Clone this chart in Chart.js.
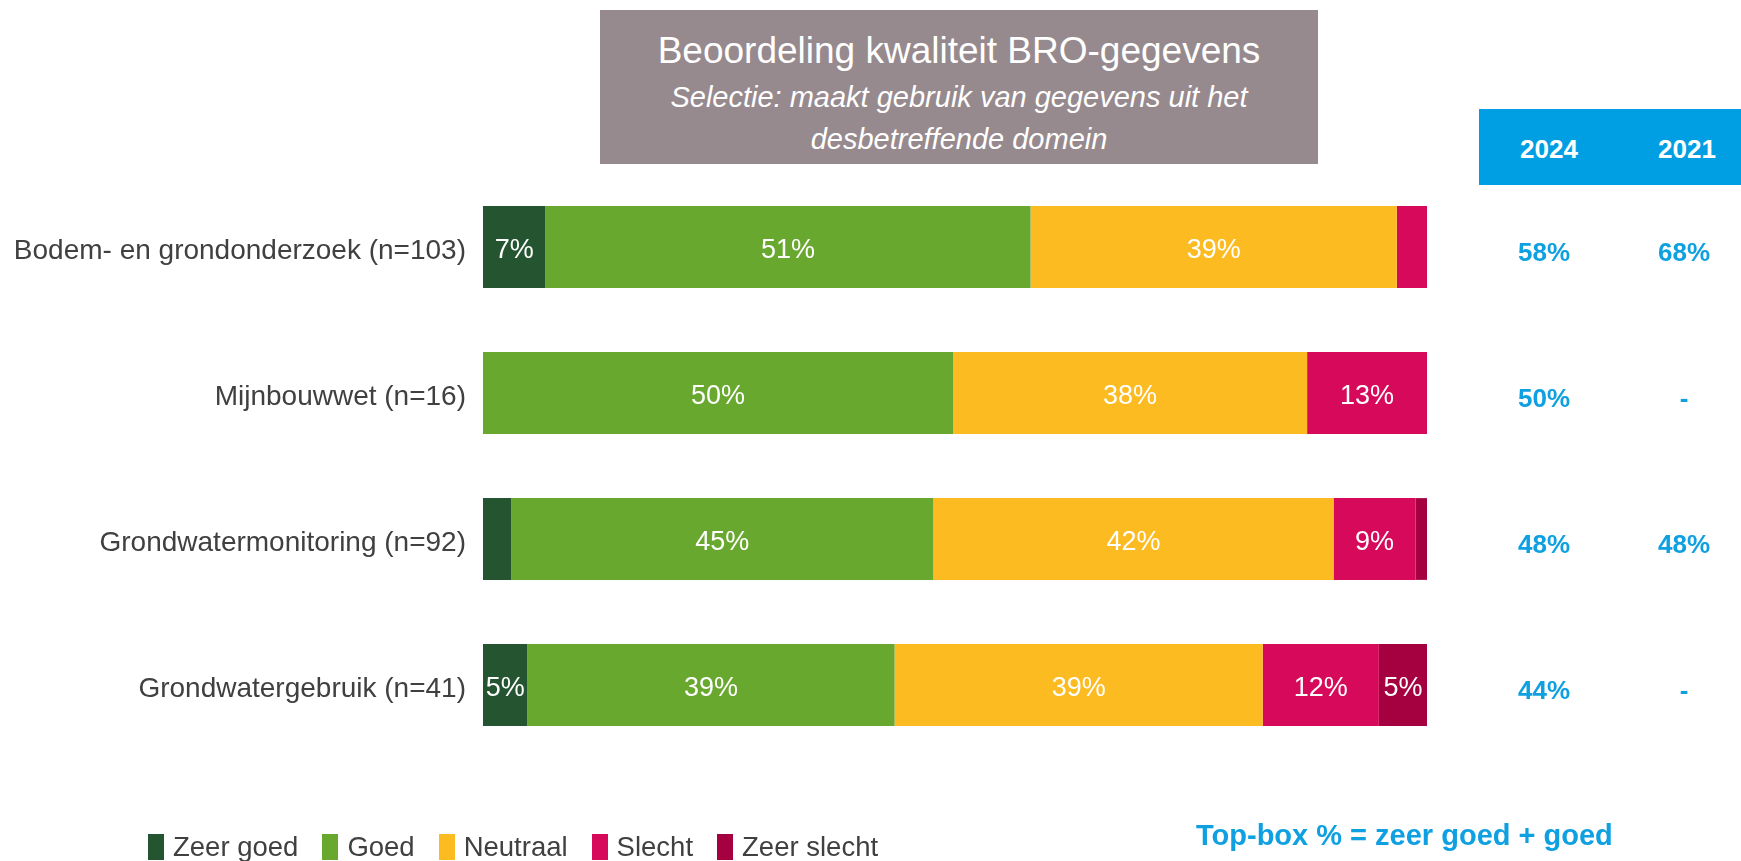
<!DOCTYPE html>
<html>
<head>
<meta charset="utf-8">
<script src="https://cdn.jsdelivr.net/npm/chart.js@4"></script>
<style>
  html, body { margin: 0; padding: 0; background: #fff; }
  body { width: 1741px; height: 861px; position: relative; overflow: hidden;
         font-family: "Liberation Sans", Arial, sans-serif; }
  #chart-wrap { position: absolute; left: 0; top: 0; width: 1741px; height: 861px; }
  .title-box { position: absolute; left: 600px; top: 10px; width: 718px; height: 154px;
               background: #978a8e; color: #fff; text-align: center; }
  .title-box .t1 { position: absolute; left: 0; right: 0; top: 20px; font-size: 37px; line-height: 42px; }
  .title-box .t2 { position: absolute; left: 0; right: 0; top: 66px; font-size: 29px; line-height: 42px; font-style: italic; }
  .year-box { position: absolute; left: 1479px; top: 109px; width: 262px; height: 76px; background: #009fe3; }
  .year-box span { position: absolute; top: 26px; width: 100px; margin-left: -50px; text-align: center;
                   color: #fff; font-weight: bold; font-size: 26px; line-height: 28px; }
  .footnote { position: absolute; left: 1196px; top: 818px; font-size: 29px; line-height: 34px;
              font-weight: bold; color: #0ea0e0; }
  #legend { position: absolute; left: 148px; top: 830px; display: flex; align-items: center;
            font-size: 27.5px; line-height: 34px; color: #404040; }
  #legend .item { display: flex; align-items: center; margin-right: 24px; }
  #legend .box { width: 16px; height: 26px; margin-right: 9px; }
</style>
</head>
<body>
<div id="chart-wrap"><canvas id="bro-chart" width="1741" height="861"></canvas></div>
<div class="title-box">
  <div class="t1">Beoordeling kwaliteit BRO-gegevens</div>
  <div class="t2">Selectie: maakt gebruik van gegevens uit het<br>desbetreffende domein</div>
</div>
<div class="year-box"><span style="left:70px">2024</span><span style="left:208px">2021</span></div>
<div id="legend"></div>
<div class="footnote">Top-box % = zeer goed + goed</div>

<script>
// Rows (domains) and answer shares in percent
const categories = [
    'Bodem- en grondonderzoek (n=103)',
    'Mijnbouwwet (n=16)',
    'Grondwatermonitoring (n=92)',
    'Grondwatergebruik (n=41)'
];
const zeerGoed   = [6.6, 0, 3.0, 4.7];
const goed       = [51.4, 49.8, 44.7, 38.9];
const neutraal   = [38.8, 37.5, 42.4, 39.0];
const slecht     = [3.2, 12.7, 8.7, 12.3];
const zeerSlecht = [0, 0, 1.2, 5.1];

// Top-box scores shown on the right
const topBox2024 = ['58%', '50%', '48%', '44%'];
const topBox2021 = ['68%', '-', '48%', '-'];

const seriesNames  = ['Zeer goed', 'Goed', 'Neutraal', 'Slecht', 'Zeer slecht'];
const seriesColors = ['#245530', '#69a82f', '#fbbb21', '#d6095a', '#a5003f'];
const seriesValues = [zeerGoed, goed, neutraal, slecht, zeerSlecht];

const FONT = '"Liberation Sans", Arial, sans-serif';

// draw % inside bars and the top-box columns
const labelPlugin = {
    id: 'barLabels',
    afterDatasetsDraw(chart) {
        const ctx = chart.ctx;
        ctx.save();
        ctx.textAlign = 'center';
        ctx.textBaseline = 'middle';
        ctx.font = '27px ' + FONT;
        ctx.fillStyle = '#ffffff';
        chart.data.datasets.forEach((ds, di) => {
            const meta = chart.getDatasetMeta(di);
            meta.data.forEach((bar, i) => {
                const v = ds.data[i];
                if (v < 4.5) return;
                ctx.fillText(Math.round(v) + '%', (bar.x + bar.base) / 2, bar.y + 4);
            });
        });

        const yScale = chart.scales.y;
        ctx.font = 'bold 26px ' + FONT;
        ctx.fillStyle = '#0ea0e0';
        categories.forEach((c, i) => {
            const y = yScale.getPixelForValue(i) + 7;
            ctx.fillText(topBox2024[i], 1544, y);
            ctx.fillText(topBox2021[i], 1684, y);
        });
        ctx.restore();
    }
};

const ctx = document.getElementById('bro-chart').getContext('2d');
const chart = new Chart(ctx, {
    type: 'bar',
    data: {
        labels: categories,
        datasets: seriesNames.map((name, i) => ({
            label: name,
            data: seriesValues[i],
            backgroundColor: seriesColors[i],
            borderWidth: 0,
            barPercentage: 0.56,
            categoryPercentage: 1
        }))
    },
    options: {
        indexAxis: 'y',
        responsive: false,
        animation: false,
        layout: {
            padding: { top: 174, bottom: 103, left: 0, right: 314 }
        },
        scales: {
            x: {
                stacked: true,
                min: 0,
                max: 100,
                display: false
            },
            y: {
                stacked: true,
                grid: { display: false, drawTicks: false },
                border: { display: false },
                ticks: {
                    color: '#404040',
                    padding: 17,
                    labelOffset: 4,
                    font: { family: FONT, size: 28 }
                },
                afterFit: function(scale) {
                    scale.width = 483;
                }
            }
        },
        plugins: {
            legend: { display: false },
            tooltip: { enabled: false }
        }
    },
    plugins: [labelPlugin]
});

// HTML legend from the dataset list
const legendEl = document.getElementById('legend');
chart.data.datasets.forEach(ds => {
    const item = document.createElement('div');
    item.className = 'item';
    item.innerHTML = '<span class="box" style="background:' + ds.backgroundColor + '"></span>' + ds.label;
    legendEl.appendChild(item);
});
</script>
</body>
</html>
